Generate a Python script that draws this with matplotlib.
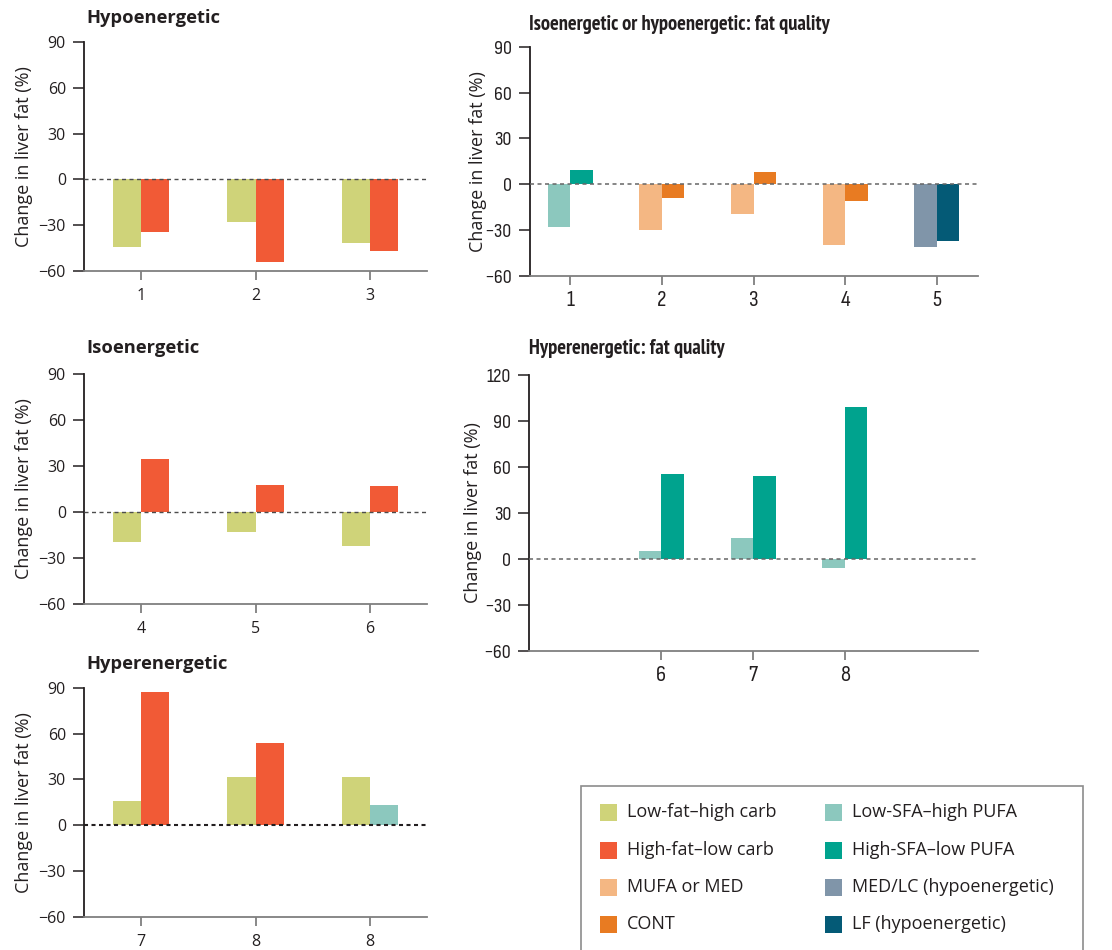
import matplotlib
matplotlib.use('Agg')
import matplotlib.pyplot as plt
import numpy as np
from matplotlib.patches import Rectangle
from matplotlib import font_manager as fm

# ---------------- data ----------------
series_names = ['Low-fat–high carb', 'High-fat–low carb', 'MUFA or MED', 'CONT',
                'Low-SFA–high PUFA', 'High-SFA–low PUFA', 'MED/LC (hypoenergetic)',
                'LF (hypoenergetic)']
series_colors = ['#CFD379', '#F15A36', '#F4B783', '#E87B22',
                 '#8CC8BE', '#00A38E', '#8095A9', '#045A76']
COL = dict(zip(series_names, series_colors))

hypo_labels = ['1', '2', '3']
hypo_lowfat = [-44.5, -27.9, -41.9]
hypo_highfat = [-34.7, -54.3, -47.1]

iso_labels = ['4', '5', '6']
iso_lowfat = [-19.6, -13.0, -22.2]
iso_highfat = [34.4, 17.4, 16.8]

hyper_labels = ['7', '8', '8']
hyper_lowfat = [16.2, 31.8, 31.8]
hyper_second = [87.4, 54.1, 13.5]
hyper_second_kind = ['High-fat–low carb', 'High-fat–low carb', 'Low-SFA–high PUFA']

fatq_labels = ['1', '2', '3', '4', '5']
fatq_left = [-27.9, -29.9, -19.4, -39.7, -41.0]
fatq_left_kind = ['Low-SFA–high PUFA', 'MUFA or MED', 'MUFA or MED', 'MUFA or MED',
                  'MED/LC (hypoenergetic)']
fatq_right = [9.2, -9.0, 7.8, -10.9, -37.1]
fatq_right_kind = ['High-SFA–low PUFA', 'CONT', 'CONT', 'CONT', 'LF (hypoenergetic)']

hyperfq_labels = ['6', '7', '8']
hyperfq_lowsfa = [5.2, 13.7, -5.7]
hyperfq_highsfa = [55.4, 54.1, 99.1]

ylabel_text = 'Change in liver fat (%)'

# ---------------- fonts ----------------
MAIN = ['Open Sans', 'DejaVu Sans']
plt.rcParams['font.family'] = MAIN
TXT = '#231F20'


def find_narrow(bold):
    best = None
    for f in fm.fontManager.ttflist:
        p = f.fname
        base = p.split('/')[-1]
        if not ('Condensed' in base or 'Narrow' in base):
            continue
        if any(k in base for k in ('Oblique', 'Italic', 'Light', 'Extra', 'Serif',
                                    'Mono', 'Thin', 'Black', 'Semi', 'Medium')):
            continue
        if ('Bold' in base) == bold:
            if best is None or 'Sans' in base:
                best = p
    return best


nar_reg = find_narrow(False)
nar_bold = find_narrow(True)


def narrow_fp(size, bold=False):
    path = nar_bold if bold else nar_reg
    if path:
        return fm.FontProperties(fname=path, size=size)
    return fm.FontProperties(family=['Lato', 'DejaVu Sans'], size=size * 0.8,
                             weight='bold' if bold else 'normal')


W, H = 1112, 950
fig = plt.figure(figsize=(W / 100, H / 100), dpi=100)


def make_ax(x0, x1, y0, y1):
    return fig.add_axes([x0 / W, 1 - y1 / H, (x1 - x0) / W, (y1 - y0) / H])


def style(ax, ylim, yticks, xlim, xpos, xlabels, narrow, ylab_x, zcolor='#4D4D4D', zlw=1.0):
    ax.set_xlim(*xlim)
    ax.set_ylim(*ylim)
    ax.set_yticks(yticks)
    ax.set_yticklabels([('−' + str(-t)) if t < 0 else str(t) for t in yticks])
    ax.set_xticks(xpos)
    ax.set_xticklabels(xlabels)
    for s in ['top', 'right']:
        ax.spines[s].set_visible(False)
    ax.spines['left'].set_color(TXT)
    ax.spines['left'].set_linewidth(1.3)
    ax.spines['bottom'].set_color('#7F7F7F')
    ax.spines['bottom'].set_linewidth(1.3)
    ax.tick_params(axis='y', length=8, width=1.1, color=TXT, pad=5,
                   labelsize=11.5, labelcolor=TXT)
    ax.tick_params(axis='x', length=6.5, width=1.3, color='#7F7F7F',
                   pad=4 if narrow else 6, labelsize=11.5, labelcolor=TXT)
    if narrow:
        for lbl in ax.get_yticklabels():
            lbl.set_fontproperties(narrow_fp(14.5))
        for lbl in ax.get_xticklabels():
            lbl.set_fontproperties(narrow_fp(16.5))
    on, off = 2.9 / zlw, 2.5 / zlw
    ax.axhline(0, color=zcolor, lw=zlw, ls=(0, (on, off)), zorder=5)
    ax.set_ylabel(ylabel_text, fontsize=13, color=TXT)
    ax.yaxis.set_label_coords(ylab_x, 0.5)


w = 0.245
TITLE_SIZE = 13.2
NTITLE_SIZE = 14.8

# Hypoenergetic
ax1 = make_ax(84, 427, 42, 271)
x = np.arange(1, len(hypo_labels) + 1)
ax1.bar(x - w / 2, hypo_lowfat, w, color=COL['Low-fat–high carb'], lw=0)
ax1.bar(x + w / 2, hypo_highfat, w, color=COL['High-fat–low carb'], lw=0)
style(ax1, (-60, 90), [-60, -30, 0, 30, 60, 90], (0.5, 3.5), x, hypo_labels, False, -0.149)
fig.text(86 / W, 1 - 18 / H, 'Hypoenergetic', fontsize=TITLE_SIZE, fontweight='bold',
         va='center', ha='left', color=TXT)

# Isoenergetic
ax2 = make_ax(84, 427, 374, 604)
x = np.arange(1, len(iso_labels) + 1)
ax2.bar(x - w / 2, iso_lowfat, w, color=COL['Low-fat–high carb'], lw=0)
ax2.bar(x + w / 2, iso_highfat, w, color=COL['High-fat–low carb'], lw=0)
style(ax2, (-60, 90), [-60, -30, 0, 30, 60, 90], (0.5, 3.5), x, iso_labels, False, -0.149)
fig.text(86 / W, 1 - 348 / H, 'Isoenergetic', fontsize=TITLE_SIZE, fontweight='bold',
         va='center', ha='left', color=TXT)

# Hyperenergetic
ax3 = make_ax(84, 427, 687.7, 917)
x = np.arange(1, len(hyper_labels) + 1)
ax3.bar(x - w / 2, hyper_lowfat, w, color=COL['Low-fat–high carb'], lw=0)
ax3.bar(x + w / 2, hyper_second, w, color=[COL[k] for k in hyper_second_kind], lw=0)
style(ax3, (-60, 90), [-60, -30, 0, 30, 60, 90], (0.5, 3.5), x, hyper_labels, False, -0.149,
      zcolor='#231F20', zlw=1.5)
fig.text(86 / W, 1 - 664 / H, 'Hyperenergetic', fontsize=TITLE_SIZE, fontweight='bold',
         va='center', ha='left', color=TXT)

# Isoenergetic or hypoenergetic: fat quality
ax4 = make_ax(530, 978, 46.7, 276)
x = np.arange(1, len(fatq_labels) + 1)
ax4.bar(x - w / 2, fatq_left, w, color=[COL[k] for k in fatq_left_kind], lw=0)
ax4.bar(x + w / 2, fatq_right, w, color=[COL[k] for k in fatq_right_kind], lw=0)
style(ax4, (-60, 90), [-60, -30, 0, 30, 60, 90], (0.56, 5.45), x, fatq_labels, True, -0.096,
      zcolor='#666666', zlw=1.1)
fig.text(529 / W, 1 - 25 / H, 'Isoenergetic or hypoenergetic: fat quality',
         fontproperties=narrow_fp(NTITLE_SIZE, bold=True), va='center', ha='left', color=TXT)

# Hyperenergetic: fat quality
ax5 = make_ax(529.3, 977.7, 375, 651)
x = np.arange(2, 2 + len(hyperfq_labels))
ax5.bar(x - w / 2, hyperfq_lowsfa, w, color=COL['Low-SFA–high PUFA'], lw=0)
ax5.bar(x + w / 2, hyperfq_highsfa, w, color=COL['High-SFA–low PUFA'], lw=0)
style(ax5, (-60, 120), [-60, -30, 0, 30, 60, 90, 120], (0.56, 5.45), x, hyperfq_labels, True,
      -0.105, zcolor='#666666', zlw=1.1)
fig.text(529 / W, 1 - 349 / H, 'Hyperenergetic: fat quality',
         fontproperties=narrow_fp(NTITLE_SIZE, bold=True), va='center', ha='left', color=TXT)

# ---------------- legend ----------------
fig.patches.append(Rectangle((581 / W, -0.05), (1083 - 581) / W, (1 - 786 / H) + 0.05,
                             transform=fig.transFigure, fill=False, edgecolor='#8C8C8C',
                             lw=1.2))
col_x = [600, 825]
row_y = [812, 850, 887, 924]
for i, (name, c) in enumerate(zip(series_names, series_colors)):
    cx = col_x[i // 4]
    ry = row_y[i % 4]
    fig.patches.append(Rectangle((cx / W, 1 - (ry + 8.5) / H), 17 / W, 17 / H,
                                 transform=fig.transFigure, color=c, lw=0))
    fig.text((cx + 27) / W, 1 - ry / H, name, fontsize=13, va='center', ha='left',
             color=TXT)

fig.savefig('out.png', dpi=100)
